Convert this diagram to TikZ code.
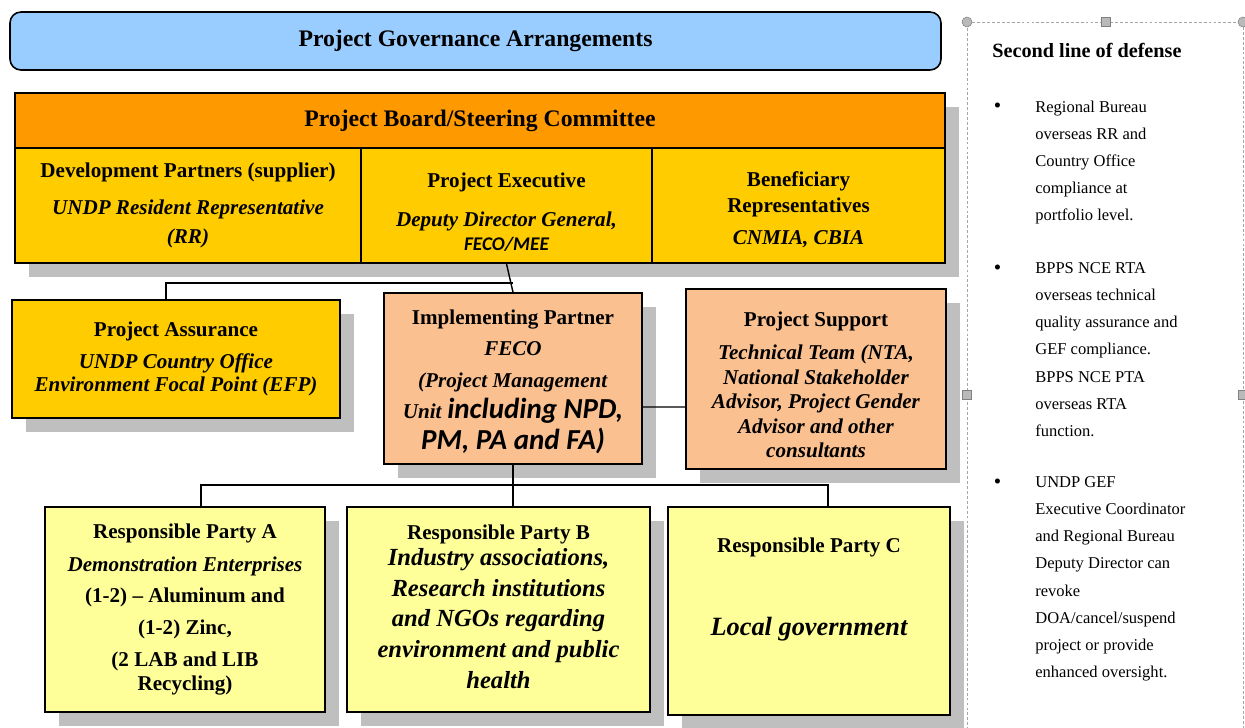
\documentclass[tikz,border=0pt]{standalone}
\usepackage{fontspec}
\setmainfont{Liberation Serif}
\newfontfamily\calibri{Carlito}
\definecolor{govblue}{RGB}{153,204,255}
\definecolor{boardorange}{RGB}{255,153,0}
\definecolor{boardgold}{RGB}{255,204,0}
\definecolor{ippeach}{RGB}{250,192,144}
\definecolor{rpyellow}{RGB}{255,255,153}
\definecolor{shadowgray}{RGB}{191,191,191}
\usetikzlibrary{positioning,shadows}
\tikzset{
  shad/.style={drop shadow={shadow xshift=0.28cm, shadow yshift=-0.28cm,
               fill=shadowgray, opacity=1}},
  govbox/.style={draw, line width=0.9pt, fill=#1, align=center, inner sep=2pt,
                 font=\fontsize{12}{14.5}\selectfont\bfseries},
  headbox/.style={draw, line width=0.9pt, fill=#1, inner sep=2pt,
                  font=\fontsize{13.5}{16}\selectfont\bfseries},
  link/.style={draw, line width=0.8pt},
  deftext/.style={inner sep=0pt, align=left, font=\fontsize{9.4}{15.4}\selectfont},
  handle/.style={draw=gray, fill=gray!55, line width=0.3pt, inner sep=0pt},
}

\begin{document}
\begin{tikzpicture}
\useasboundingbox (0,0) rectangle (24.9,-14.54);

% Title bar
\node[headbox=govblue, rounded corners=0.22cm, minimum width=18.62cm, minimum height=1.16cm]
      (title) at (9.51,-0.82) {Project Governance Arrangements};

% Project board
\node[headbox=boardorange, shad, minimum width=18.6cm, minimum height=1.1cm]
      (board) at (9.6,-2.41) {Project Board/Steering Committee};
\node[govbox=boardgold, shad, minimum width=6.92cm, minimum height=2.3cm] (dev) at (3.76,-4.11)
      {Development Partners (supplier)\\[6.5pt]
       \textit{UNDP Resident Representative}\\[2pt]
       \textit{(RR)}};
\node[govbox=boardgold, shad, minimum width=5.82cm, minimum height=2.3cm] (exec) at (10.13,-4.11)
      {\mbox{}\\[1.3pt]
       Project Executive\\[7.5pt]
       \textit{Deputy Director General,}\\[-1pt]
       {\calibri\fontsize{11}{13}\selectfont\itshape FECO/MEE}};
\node[govbox=boardgold, shad, minimum width=5.86cm, minimum height=2.3cm] (benef) at (15.97,-4.11)
      {\mbox{}\\[-0.9pt]
       Beneficiary\\
       Representatives\\[4pt]
       \textit{CNMIA, CBIA}};

% Second level
\node[govbox=boardgold, shad, minimum width=6.56cm, minimum height=2.36cm] (pa) at (3.52,-7.18)
      {Project Assurance\\[3.5pt]
       \textit{UNDP Country Office}\\[-1.5pt]
       \textit{Environment Focal Point (EFP)}};
\node[govbox=ippeach, shad, minimum width=5.16cm, minimum height=3.42cm] (ip) at (10.26,-7.57)
      {\mbox{}\\[-2.6pt]
       Implementing Partner\\[3.5pt]
       \textit{FECO}\\[3.5pt]
       \textit{(Project Management}\\[3.3pt]
       \textit{Unit} {\calibri\fontsize{16.5}{18}\selectfont\itshape including NPD,}\\[1.3pt]
       {\calibri\fontsize{16.5}{18}\selectfont\itshape PM, PA and FA)}};
\node[govbox=ippeach, shad, minimum width=5.2cm, minimum height=3.6cm] (ps) at (16.32,-7.58)
      {\mbox{}\\[0.9pt]
       Project Support\\[4pt]
       \textit{Technical Team (NTA,}\\[-0.5pt]
       \textit{National Stakeholder}\\[-0.5pt]
       \textit{Advisor, Project Gender}\\[-0.5pt]
       \textit{Advisor and other}\\[-0.5pt]
       \textit{consultants}};

% Responsible parties
\node[govbox=rpyellow, shad, minimum width=5.6cm, minimum height=4.1cm] (rpa) at (3.7,-12.19)
      {Responsible Party A\\[4pt]
       \textit{Demonstration Enterprises}\\[3.5pt]
       (1-2) -- Aluminum and\\[3.5pt]
       (1-2) Zinc,\\[4pt]
       (2 LAB and LIB\\[-1pt]
       Recycling)};
\node[govbox=rpyellow, shad, minimum width=6.06cm, minimum height=4.1cm,
      font=\fontsize{14}{17.5}\selectfont\bfseries\itshape] (rpb) at (9.97,-12.19)
      {{\fontsize{12}{14.5}\selectfont\upshape Responsible Party B}\\[-2.7pt]
       Industry associations,\\
       Research institutions\\
       and NGOs regarding\\
       environment and public\\
       health\\[-14pt]
       \mbox{}};
\node[govbox=rpyellow, shad, minimum width=5.64cm, minimum height=4.16cm] (rpc) at (16.18,-12.22)
      {Responsible Party C\\[33pt]
       {\fontsize{15}{18}\selectfont\itshape Local government}\\[13pt]
       \mbox{}};

% Connectors
\coordinate (bj) at (10.26,-5.66);
\draw[link] (exec.south) -- (ip.north);
\draw[link] (bj) -| ([xshift=-0.2cm]pa.north);
\draw[link] ([yshift=-0.57cm]ip.east) -- ([yshift=-0.56cm]ps.west);
\draw[link] (ip.south) -- ++(0,-0.4) coordinate (rj);
\draw[link] (rj) -| ([xshift=0.32cm]rpa.north);
\draw[link] (rj) -- (rj |- rpb.north);
\draw[link] (rj) -| ([xshift=0.38cm]rpc.north);

% Second line of defense panel
\draw[gray!70, line width=0.4pt, dash pattern=on 1.6pt off 1.2pt]
      (19.34,-14.6) -- (19.34,-0.44) -- (24.86,-0.44) -- (24.86,-14.6);
\foreach \hx/\hy [count=\i] in {19.34/-0.44, 24.86/-0.44}
  \node[handle, circle, minimum size=0.2cm] (hc\i) at (\hx,\hy) {};
\foreach \hx/\hy [count=\i] in {22.12/-0.44, 19.34/-7.9, 24.86/-7.9}
  \node[handle, minimum size=0.17cm] (hs\i) at (\hx,\hy) {};

\node[anchor=base west, inner sep=0pt, font=\fontsize{11.5}{14}\selectfont\bfseries]
      (defhead) at (19.84,-1.14) {Second line of defense};

\node[inner sep=0pt, anchor=base, font=\fontsize{12}{14}\selectfont] (dot1) at (19.95,-2.24) {\textbullet};
\node[deftext, anchor=north west] (def1) at (20.7,-2.01)
      {Regional Bureau\\ overseas RR and\\ Country Office\\ compliance at\\ portfolio level.};
\node[inner sep=0pt, anchor=base, font=\fontsize{12}{14}\selectfont] (dot2) at (19.95,-5.48) {\textbullet};
\node[deftext, anchor=north west] (def2) at (20.7,-5.25)
      {BPPS NCE RTA\\ overseas technical\\ quality assurance and\\ GEF compliance.\\
       BPPS NCE PTA\\ overseas RTA\\ function.};
\node[inner sep=0pt, anchor=base, font=\fontsize{12}{14}\selectfont] (dot3) at (19.95,-9.76) {\textbullet};
\node[deftext, anchor=north west] (def3) at (20.7,-9.53)
      {UNDP GEF\\ Executive Coordinator\\ and Regional Bureau\\ Deputy Director can\\
       revoke\\ DOA/cancel/suspend\\ project or provide\\ enhanced oversight.};
\end{tikzpicture}
\end{document}
